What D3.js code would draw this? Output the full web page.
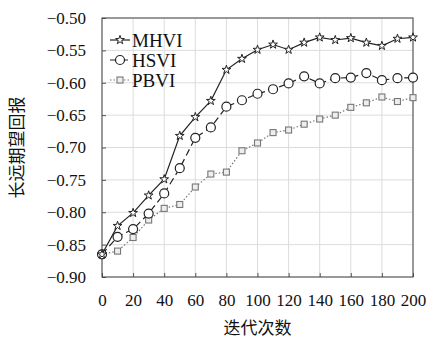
<!DOCTYPE html>
<html>
<head>
<meta charset="utf-8">
<script src="https://cdn.jsdelivr.net/npm/d3@7"></script>
<style>
  body { margin: 0; background: #fff; }
</style>
</head>
<body>
<svg id="chart" width="427" height="338"></svg>
<script>
const iterations = [0, 10, 20, 30, 40, 50, 60, 70, 80, 90, 100, 110, 120, 130, 140, 150, 160, 170, 180, 190, 200];
const mhvi = [-0.865, -0.821, -0.801, -0.774, -0.749, -0.682, -0.653, -0.628, -0.580, -0.563, -0.549, -0.541, -0.549, -0.538, -0.530, -0.534, -0.531, -0.538, -0.543, -0.532, -0.530];
const hsvi = [-0.865, -0.838, -0.826, -0.802, -0.771, -0.732, -0.685, -0.669, -0.637, -0.627, -0.617, -0.610, -0.601, -0.590, -0.601, -0.593, -0.592, -0.585, -0.596, -0.593, -0.592];
const pbvi = [-0.865, -0.860, -0.839, -0.812, -0.794, -0.788, -0.761, -0.741, -0.738, -0.705, -0.693, -0.677, -0.673, -0.664, -0.656, -0.650, -0.638, -0.631, -0.622, -0.629, -0.623];
const xTicks = [0, 20, 40, 60, 80, 100, 120, 140, 160, 180, 200];
const yTicks = [-0.90, -0.85, -0.80, -0.75, -0.70, -0.65, -0.60, -0.55, -0.50];
const seriesNames = ["MHVI", "HSVI", "PBVI"];

const width = 427;
const height = 338;
const margin = { top: 18, right: 14, bottom: 61, left: 102 };
const serif = '"Liberation Serif", "DejaVu Serif", serif';

const svg = d3.select("#chart");

const x = d3.scaleLinear().domain([0, 200]).range([margin.left, width - margin.right]);
const y = d3.scaleLinear().domain([-0.9, -0.5]).range([height - margin.bottom, margin.top]);

// grid
svg.append("g")
  .selectAll("line")
  .data(xTicks)
  .join("line")
  .attr("x1", (d) => x(d)).attr("x2", (d) => x(d))
  .attr("y1", y(-0.5)).attr("y2", y(-0.9))
  .attr("stroke", "#dcdcdc").attr("stroke-width", 1);

svg.append("g")
  .selectAll("line")
  .data(yTicks)
  .join("line")
  .attr("x1", x(0)).attr("x2", x(200))
  .attr("y1", (d) => y(d)).attr("y2", (d) => y(d))
  .attr("stroke", "#dcdcdc").attr("stroke-width", 1);

// axes, ticks pointing in
const xAxis = svg.append("g")
  .attr("transform", `translate(0,${y(-0.9)})`)
  .call(d3.axisBottom(x).tickValues(xTicks).tickSizeInner(-4).tickSizeOuter(0).tickPadding(17).tickFormat(d3.format("d")));
const yAxis = svg.append("g")
  .attr("transform", `translate(${x(0)},0)`)
  .call(d3.axisLeft(y).tickValues(yTicks).tickSizeInner(-4).tickSizeOuter(0).tickPadding(16)
    .tickFormat((d) => d3.format(".2f")(d).replace("-", "\u2212")));
[xAxis, yAxis].forEach((g) => {
  g.select(".domain").remove();
  g.selectAll(".tick line").attr("stroke", "#555");
  g.selectAll(".tick text").attr("font-size", 17).attr("fill", "#111").attr("font-family", serif);
});

svg.append("rect")
  .attr("x", x(0)).attr("y", y(-0.5))
  .attr("width", x(200) - x(0)).attr("height", y(-0.9) - y(-0.5))
  .attr("fill", "none").attr("stroke", "#444").attr("stroke-width", 1);

const styles = [
  { values: mhvi, color: "#222", dash: null, marker: "star" },
  { values: hsvi, color: "#222", dash: "7,4", marker: "circle" },
  { values: pbvi, color: "#777", dash: "1.5,2", marker: "square" }
];

const line = d3.line().x((d) => x(d[0])).y((d) => y(d[1]));

function drawMarker(g, type, color) {
  if (type === "star") {
    g.append("path").attr("d", d3.symbol(d3.symbolStar, 24)())
      .attr("fill", "#fff").attr("stroke", color).attr("stroke-width", 1);
  } else if (type === "circle") {
    g.append("circle").attr("r", 4.5).attr("fill", "#fff").attr("stroke", color).attr("stroke-width", 1.2);
  } else {
    g.append("rect").attr("x", -3).attr("y", -3).attr("width", 6).attr("height", 6)
      .attr("fill", "#eee").attr("stroke", color).attr("stroke-width", 1.1);
  }
}

styles.slice().reverse().forEach((s) => {
  const pts = iterations.map((it, i) => [it, s.values[i]]);
  svg.append("path")
    .attr("d", line(pts))
    .attr("fill", "none")
    .attr("stroke", s.color)
    .attr("stroke-width", 1.2)
    .attr("stroke-dasharray", s.dash);
  pts.forEach((p) => {
    const g = svg.append("g").attr("transform", `translate(${x(p[0])},${y(p[1])})`);
    drawMarker(g, s.marker, s.color);
  });
});

// legend
const legend = svg.append("g");
styles.forEach((s, i) => {
  const ly = 40 + i * 20;
  legend.append("line")
    .attr("x1", 110).attr("x2", 130).attr("y1", ly).attr("y2", ly)
    .attr("stroke", s.color).attr("stroke-width", 1.2).attr("stroke-dasharray", s.dash);
  const g = legend.append("g").attr("transform", `translate(120,${ly})`);
  drawMarker(g, s.marker, s.color);
  legend.append("text")
    .attr("x", 132).attr("y", ly + 6.5)
    .attr("font-family", serif).attr("font-size", 19).attr("fill", "#111")
    .text(seriesNames[i]);
});

// axis titles
svg.append("text")
  .attr("x", (x(0) + x(200)) / 2).attr("y", 334)
  .attr("text-anchor", "middle")
  .attr("font-family", '"Noto Sans CJK SC", sans-serif').attr("font-size", 17).attr("fill", "#111")
  .text("迭代次数");

svg.append("text")
  .attr("transform", `translate(23,${(y(-0.5) + y(-0.9)) / 2}) rotate(-90)`)
  .attr("text-anchor", "middle")
  .attr("font-family", '"Noto Sans CJK SC", sans-serif').attr("font-size", 17).attr("fill", "#111")
  .text("长远期望回报");
</script>
</body>
</html>
